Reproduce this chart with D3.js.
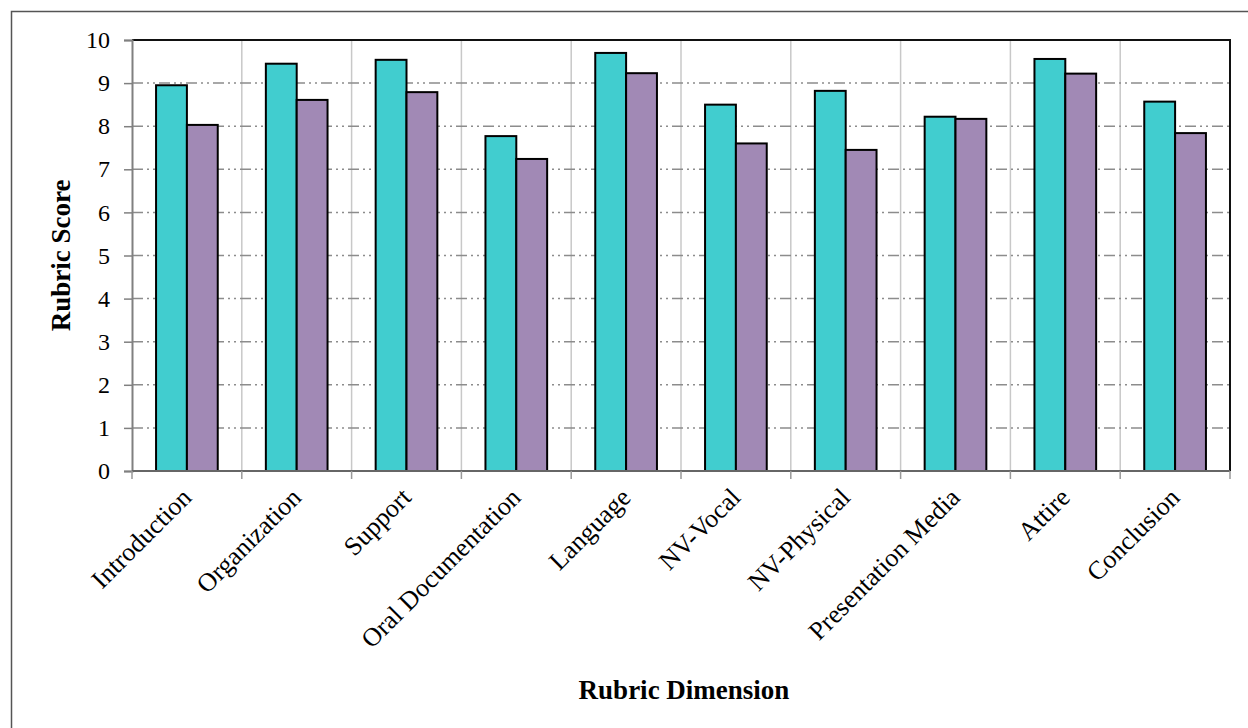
<!DOCTYPE html>
<html>
<head>
<meta charset="utf-8">
<script src="https://cdn.jsdelivr.net/npm/d3@7"></script>
<style>
  html, body { margin: 0; padding: 0; background: #fff; }
  svg { display: block; font-family: "Liberation Serif", "Times New Roman", serif; }
</style>
</head>
<body>
<svg id="chart" width="1248" height="728"></svg>
<script>
// Rubric dimensions and the two score series
const categories = ["Introduction", "Organization", "Support", "Oral Documentation", "Language",
                    "NV-Vocal", "NV-Physical", "Presentation Media", "Attire", "Conclusion"];
const seriesA = [8.95, 9.45, 9.54, 7.77, 9.70, 8.50, 8.82, 8.22, 9.56, 8.57];
const seriesB = [8.03, 8.61, 8.79, 7.24, 9.23, 7.60, 7.45, 8.17, 9.22, 7.84];
const yTicks = [0, 1, 2, 3, 4, 5, 6, 7, 8, 9, 10];
const seriesNames = ["A", "B"];
const seriesColors = ["#41cdcf", "#a189b5"];

const svg = d3.select("#chart");
const plot = { left: 132, top: 40, right: 1230, bottom: 471 };

// Outer frame (runs off the right and bottom edges)
svg.append("rect")
  .attr("x", 11.5).attr("y", 11.5)
  .attr("width", 1260).attr("height", 740)
  .attr("fill", "none").attr("stroke", "#555").attr("stroke-width", 1.5);

const x = d3.scaleBand().domain(categories).range([plot.left, plot.right]);
const xInner = d3.scaleBand().domain(seriesNames).range([0, x.bandwidth()])
  .paddingOuter(0.78).paddingInner(0);
const y = d3.scaleLinear().domain([0, 10]).range([plot.bottom, plot.top]);

// Vertical gridlines at category boundaries
const boundaries = categories.map(c => x(c)).concat([plot.right]);
svg.append("g").selectAll("line").data(boundaries.slice(1, -1)).join("line")
  .attr("x1", d => d).attr("x2", d => d)
  .attr("y1", plot.top).attr("y2", plot.bottom)
  .attr("stroke", "#c8c8c8").attr("stroke-width", 1.5);

// Horizontal dash-dot-dot gridlines
svg.append("g").selectAll("line").data(yTicks.slice(1, -1)).join("line")
  .attr("x1", plot.left).attr("x2", plot.right)
  .attr("y1", d => y(d)).attr("y2", d => y(d))
  .attr("stroke", "#8c8c8c").attr("stroke-width", 1.5)
  .attr("stroke-dasharray", "11,4,2,4,2,4");

// Plot border (top and right in black)
svg.append("path")
  .attr("d", `M${plot.left},${plot.top}H${plot.right}V${plot.bottom}`)
  .attr("fill", "none").attr("stroke", "#111").attr("stroke-width", 2);

// Bars
const groups = svg.append("g").selectAll("g").data(categories).join("g")
  .attr("transform", c => `translate(${x(c)},0)`);
groups.selectAll("rect")
  .data((c, i) => [
    { s: "A", v: seriesA[i], color: seriesColors[0] },
    { s: "B", v: seriesB[i], color: seriesColors[1] }
  ])
  .join("rect")
  .attr("x", d => xInner(d.s))
  .attr("width", xInner.bandwidth())
  .attr("y", d => y(d.v))
  .attr("height", d => plot.bottom - y(d.v))
  .attr("fill", d => d.color)
  .attr("stroke", "#000").attr("stroke-width", 2);

// Y axis
const yAxis = svg.append("g")
  .attr("transform", `translate(${plot.left},0)`)
  .call(d3.axisLeft(y).tickValues(yTicks).tickSize(8).tickPadding(14).tickFormat(d3.format("d")));
yAxis.select(".domain").attr("stroke", "#808080").attr("stroke-width", 2);
yAxis.selectAll(".tick line").attr("stroke", "#808080").attr("stroke-width", 1.5);
yAxis.selectAll(".tick text")
  .attr("font-family", "Liberation Serif").attr("font-size", 24).attr("fill", "#000");

// X axis line with ticks at category boundaries
svg.append("line")
  .attr("x1", plot.left).attr("x2", plot.right)
  .attr("y1", plot.bottom).attr("y2", plot.bottom)
  .attr("stroke", "#666").attr("stroke-width", 2);
svg.append("g").selectAll("line").data(boundaries).join("line")
  .attr("x1", d => d).attr("x2", d => d)
  .attr("y1", plot.bottom).attr("y2", plot.bottom + 8)
  .attr("stroke", "#999").attr("stroke-width", 1.5);

// Rotated category labels
svg.append("g").selectAll("text").data(categories).join("text")
  .attr("transform", c => `translate(${x(c) + x.bandwidth() / 2 + 6},${plot.bottom + 28}) rotate(-45)`)
  .attr("text-anchor", "end")
  .attr("font-size", 26)
  .attr("fill", "#000")
  .text(c => c);

// Axis titles
svg.append("text")
  .attr("transform", `translate(70,${(plot.top + plot.bottom) / 2}) rotate(-90)`)
  .attr("text-anchor", "middle")
  .attr("font-size", 27).attr("font-weight", "bold")
  .text("Rubric Score");

svg.append("text")
  .attr("x", 684).attr("y", 699)
  .attr("text-anchor", "middle")
  .attr("font-size", 27).attr("font-weight", "bold")
  .text("Rubric Dimension");
</script>
</body>
</html>
